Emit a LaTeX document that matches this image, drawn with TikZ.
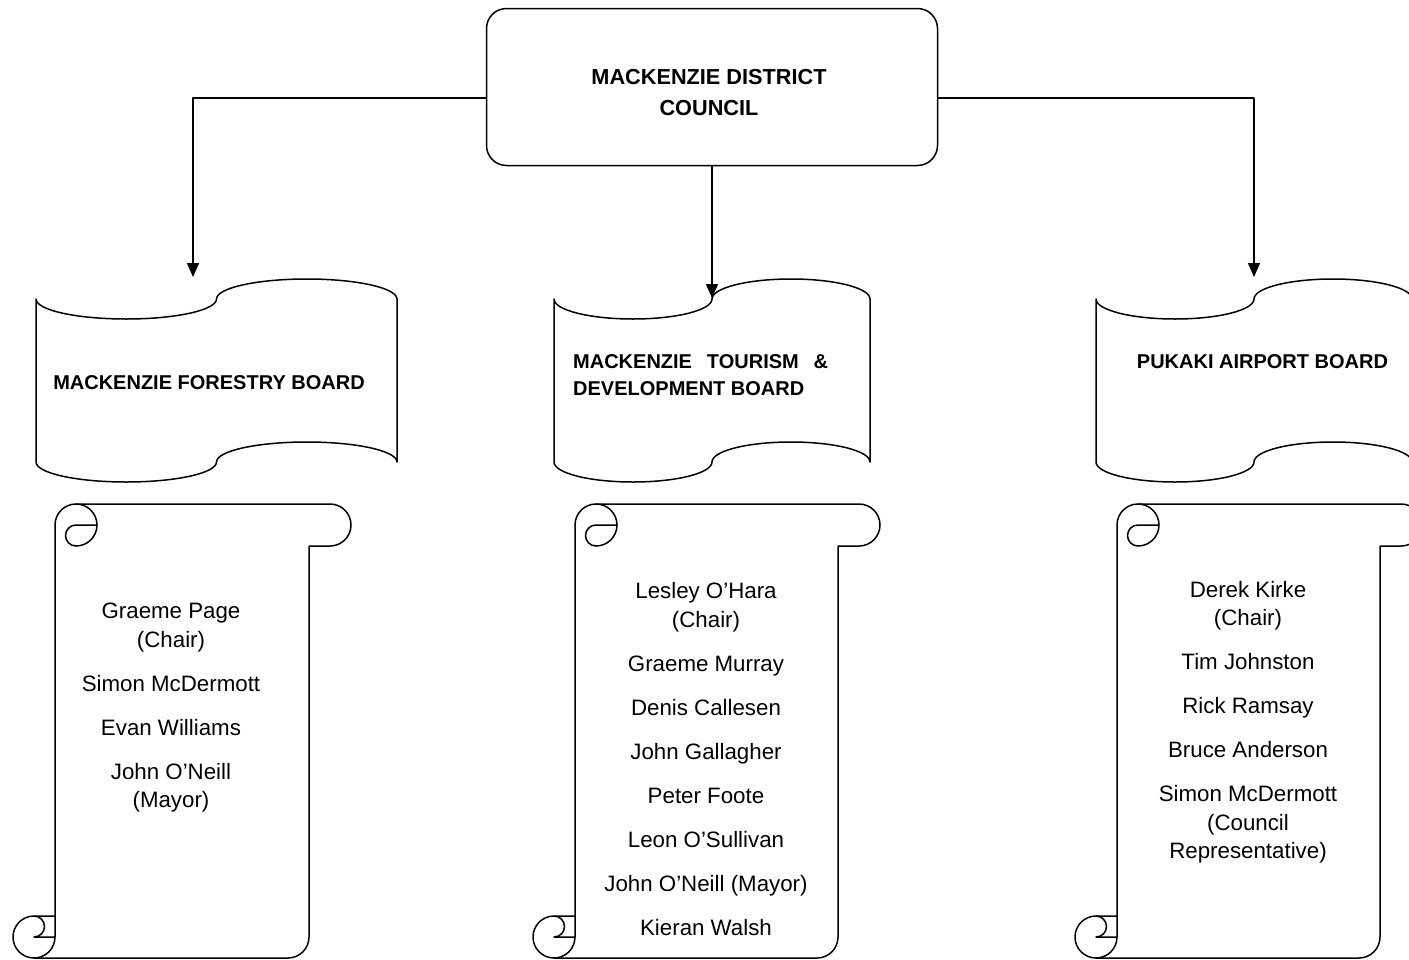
\documentclass[tikz,border=0pt]{standalone}
\usepackage{fontspec}
\setmainfont{Liberation Sans}
\usetikzlibrary{arrows.meta}

\begin{document}
\begin{tikzpicture}[x=1pt,y=-1pt,
  outline/.style={line width=1.5pt,line join=round},
  arrow/.style={outline,-{Triangle[length=14pt,width=12pt]}},
  box/.style={draw,outline,rounded corners=20pt,minimum width=451pt,minimum height=157pt},
  head/.style={font=\bfseries\fontsize{20}{27}\selectfont,inner sep=0pt},
  names/.style={font=\fontsize{22.3}{28.5}\selectfont,align=center,inner sep=0pt}]
\clip (0,0) rectangle (1409,959);
\node[box] (council) at (712,87) {};
\node[head,font=\bfseries\fontsize{21.7}{31}\selectfont,align=center] (councilname) at (709,92.5) {MACKENZIE DISTRICT\\COUNCIL};

\foreach \xa/\w in {36/361,554/316,1096/316}{
  \draw[outline] (\xa,299) arc[start angle=180,end angle=0,x radius=\w/4,y radius=20]
    arc[start angle=180,end angle=360,x radius=\w/4,y radius=20] -- ++(0,163)
    arc[start angle=0,end angle=-180,x radius=\w/4,y radius=20]
    arc[start angle=0,end angle=180,x radius=\w/4,y radius=20] -- cycle;
}
\node[head] (forestry) at (209,383) {MACKENZIE FORESTRY BOARD};
\node[head,align=left,anchor=west] (tourism) at (573,375.5) {\makebox[255pt][s]{MACKENZIE\hfill TOURISM\hfill \&}\\DEVELOPMENT BOARD};
\node[head] (airport) at (1262.5,362) {PUKAKI AIRPORT BOARD};

\coordinate (forestry-in) at (193,277);
\coordinate (tourism-in) at (712,298);
\coordinate (airport-in) at (1254,277);
\draw[arrow] ([yshift=-11pt]council.west) -| (forestry-in);
\draw[arrow] (council.south) -- (tourism-in);
\draw[arrow] ([yshift=-11pt]council.east) -| (airport-in);

\foreach \xl/\xr in {13/351,533/880,1075/1422}{
  \draw[outline] (\xl+42,916) -- (\xl+42,525) arc[start angle=180,end angle=270,radius=21]
    -- (\xr-21,504) arc[start angle=270,end angle=450,radius=21]
    -- (\xr-42,546) -- (\xr-42,937) arc[start angle=0,end angle=90,radius=21]
    -- (\xl+21,958) arc[start angle=90,end angle=270,radius=21] -- cycle;
  \draw[outline] (\xl+63,504) arc[start angle=270,end angle=450,radius=21]
    arc[start angle=90,end angle=270,radius=10.5] -- (\xl+84,525);
  \draw[outline] (\xl+21,916) arc[start angle=270,end angle=450,radius=10.5] -- (\xl+42,937);
  \draw[outline] (\xl+21,958) arc[start angle=90,end angle=0,radius=21] -- (\xl+42,916);
}
\node[names] (forestrymembers) at (171,708) {Graeme Page\\(Chair)\\[15.5pt]Simon McDermott\\[15.5pt]Evan Williams\\[15.5pt]John O’Neill\\(Mayor)};
\node[names] (tourismmembers) at (706,759) {Lesley O’Hara\\(Chair)\\[15.5pt]Graeme Murray\\[15.5pt]Denis Callesen\\[15.5pt]John Gallagher\\[15.5pt]Peter Foote\\[15.5pt]Leon O’Sullivan\\[15.5pt]John O’Neill (Mayor)\\[15.5pt]Kieran Walsh};
\node[names] (airportmembers) at (1248,722) {Derek Kirke\\(Chair)\\[15.5pt]Tim Johnston\\[15.5pt]Rick Ramsay\\[15.5pt]Bruce Anderson\\[15.5pt]Simon McDermott\\(Council\\Representative)};
\end{tikzpicture}
\end{document}
